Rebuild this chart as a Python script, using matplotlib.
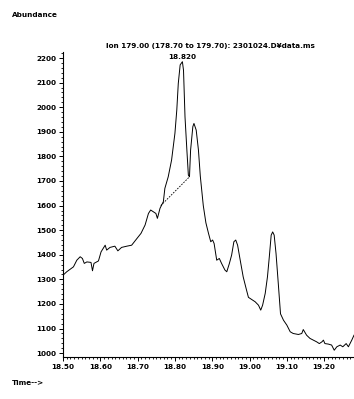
import matplotlib
matplotlib.use("Agg")
import matplotlib.pyplot as plt
from matplotlib.ticker import MultipleLocator, FormatStrFormatter

time_min = [18.500, 18.510, 18.528, 18.537, 18.546, 18.552, 18.557, 18.564, 18.575, 18.579,
            18.583, 18.595, 18.602, 18.613, 18.617, 18.626, 18.639, 18.647, 18.657, 18.671,
            18.684, 18.698, 18.709, 18.720, 18.729, 18.735, 18.742, 18.749, 18.753, 18.760,
            18.769, 18.773, 18.782, 18.791, 18.800, 18.805, 18.809, 18.814, 18.820, 18.823,
            18.827, 18.832, 18.836, 18.839, 18.842, 18.848, 18.851, 18.857, 18.863, 18.868,
            18.876, 18.883, 18.890, 18.896, 18.901, 18.905, 18.912, 18.919, 18.925, 18.934,
            18.939, 18.946, 18.952, 18.958, 18.963, 18.968, 18.975, 18.983, 18.992, 18.997,
            19.006, 19.015, 19.024, 19.030, 19.035, 19.042, 19.048, 19.053, 19.058, 19.062,
            19.066, 19.071, 19.077, 19.083, 19.091, 19.100, 19.109, 19.117, 19.131, 19.140,
            19.144, 19.153, 19.162, 19.171, 19.180, 19.187, 19.194, 19.198, 19.202, 19.211,
            19.220, 19.227, 19.234, 19.243, 19.250, 19.259, 19.265, 19.274, 19.280]
abundance = [1317, 1331, 1351, 1378, 1392, 1385, 1365, 1371, 1369, 1335,
             1365, 1375, 1412, 1439, 1419, 1430, 1435, 1416, 1430, 1435,
             1439, 1466, 1487, 1521, 1568, 1582, 1575, 1568, 1548, 1589,
             1616, 1670, 1717, 1785, 1894, 1989, 2097, 2172, 2185, 2150,
             1961, 1826, 1724, 1717, 1826, 1921, 1934, 1907, 1826, 1720,
             1600, 1530, 1487, 1453, 1460, 1446, 1378, 1385, 1365, 1338,
             1331, 1365, 1399, 1453, 1460, 1439, 1378, 1310, 1256, 1227,
             1218, 1209, 1195, 1175, 1195, 1243, 1310, 1392, 1480, 1493,
             1480, 1405, 1284, 1160, 1134, 1114, 1087, 1080, 1076, 1080,
             1096, 1073, 1060, 1053, 1046, 1039, 1046, 1053, 1039, 1037,
             1033, 1012, 1026, 1033, 1026, 1039, 1026, 1053, 1073]

baseline_time = [18.762, 18.839]
baseline_abund = [1600, 1717]

peak_time = 18.820
peak_label_abund = 2205
peak_label = "18.820"
title = "Ion 179.00 (178.70 to 179.70): 2301024.D\u00a5data.ms"

fs = 5.2
plt.rcParams['font.family'] = ['DejaVu Sans']

fig = plt.figure(figsize=(3.54, 3.99), dpi=100)
ax = fig.add_axes([0.178, 0.105, 0.822, 0.765])
ax.plot(time_min, abundance, color='black', lw=0.7)
ax.plot(baseline_time, baseline_abund, color='black', lw=0.6, ls=(0, (2, 1.5)))

ax.set_xlim(18.5, 19.28)
ax.set_ylim(984, 2225)
for s in ['top', 'right']:
    ax.spines[s].set_visible(False)
for s in ['left', 'bottom']:
    ax.spines[s].set_linewidth(0.8)

ax.xaxis.set_major_locator(MultipleLocator(0.1))
ax.xaxis.set_minor_locator(MultipleLocator(0.01))
ax.xaxis.set_major_formatter(FormatStrFormatter('%.2f'))
ax.yaxis.set_major_locator(MultipleLocator(100))
ax.yaxis.set_minor_locator(MultipleLocator(20))
ax.tick_params(axis='both', which='major', labelsize=fs, length=3, width=0.7, pad=2)
ax.tick_params(axis='both', which='minor', length=1.5, width=0.6)
for lab in ax.get_xticklabels() + ax.get_yticklabels():
    lab.set_fontweight('bold')

fig.text(12/354, 1 - 15/399, "Abundance", fontsize=fs, fontweight='bold', ha='left', va='center')
fig.text(12/354, 1 - 383/399, "Time-->", fontsize=fs, fontweight='bold', ha='left', va='center')
fig.text(210/354, 1 - 46/399, title, fontsize=fs, fontweight='bold', ha='center', va='center')
ax.text(peak_time, peak_label_abund, peak_label, ha='center', va='center',
        fontsize=fs, fontweight='bold')

fig.savefig("out.png", dpi=100)
